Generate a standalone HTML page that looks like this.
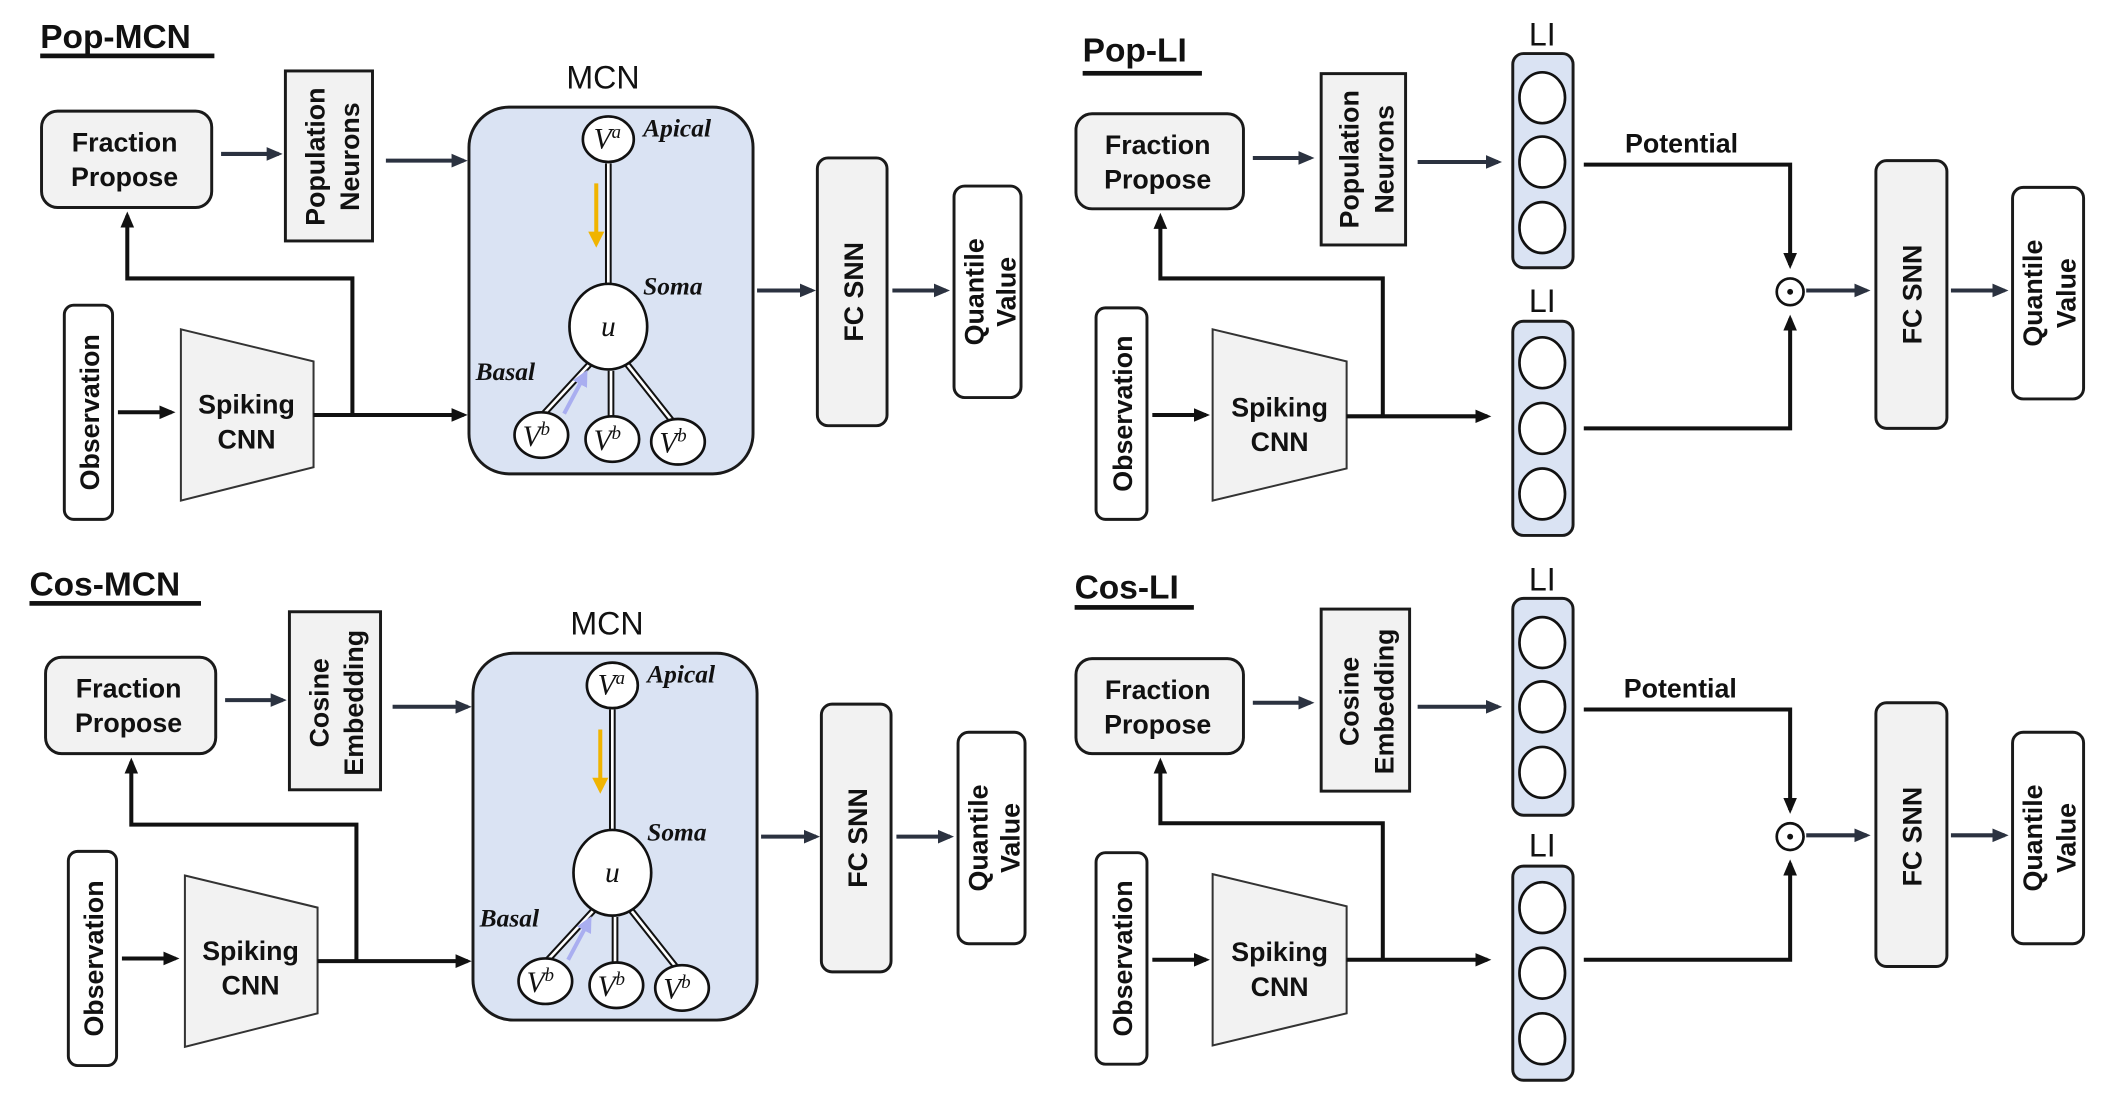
<!DOCTYPE html>
<html><head><meta charset="utf-8"><style>
html,body{margin:0;padding:0;background:#fff;}
svg{display:block;}
text{font-family:"Liberation Sans",sans-serif;}
.b{font-weight:bold;font-size:20px;fill:#111;}
.t{font-weight:bold;font-size:25px;fill:#111;}
.it{font-family:"Liberation Serif",serif;font-style:italic;font-weight:bold;font-size:19px;fill:#111;}
.m{font-family:"Liberation Serif",serif;font-style:italic;font-size:22px;fill:#111;}
.box{fill:#f2f2f2;stroke:#1a1a1a;stroke-width:2.2;}
.wbox{fill:#fff;stroke:#1a1a1a;stroke-width:2.2;}
.blue{fill:#dae3f3;stroke:#1a1a1a;stroke-width:2.2;}
.ar{stroke:#2b3240;stroke-width:3;fill:none;marker-end:url(#ah);}
.k{stroke:#111;stroke-width:3;fill:none;}
.ka{stroke:#111;stroke-width:3;fill:none;marker-end:url(#ak);}
.dl{stroke:#111;stroke-width:5;fill:none;}
.dw{stroke:#fff;stroke-width:2;fill:none;}
.c{fill:#fff;stroke:#111;stroke-width:2;}
</style></head><body>
<svg width="2101" height="1095" viewBox="0 0 1568 818" preserveAspectRatio="none" xmlns="http://www.w3.org/2000/svg">
<defs>
<marker id="ah" markerWidth="4" markerHeight="4" refX="3" refY="2" orient="auto"><path d="M0,0.3 L4,2 L0,3.7z" fill="#2b3240"/></marker>
<marker id="ak" markerWidth="4" markerHeight="4" refX="3" refY="2" orient="auto"><path d="M0,0.3 L4,2 L0,3.7z" fill="#111"/></marker>
<marker id="ao" markerWidth="4" markerHeight="4" refX="3" refY="2" orient="auto"><path d="M0,0 L4,2 L0,4z" fill="#f0b400"/></marker>
<marker id="ap" markerWidth="4" markerHeight="4" refX="3" refY="2" orient="auto"><path d="M0,0 L4,2 L0,4z" fill="#a9aef0"/></marker>
</defs>

<!-- ===== Pop-MCN ===== -->
<g>
<text class="t" x="30" y="36">Pop-MCN</text>
<rect x="30" y="40" width="130" height="3.5" fill="#111"/>
<rect class="box" x="31" y="83" width="127" height="72" rx="12"/>
<text class="b" x="93" y="113" text-anchor="middle">Fraction</text>
<text class="b" x="93" y="139" text-anchor="middle">Propose</text>
<path class="ar" d="M165,115 H208"/>
<rect class="box" x="213" y="53" width="65" height="127"/>
<text class="b" transform="translate(242,117) rotate(-90)" text-anchor="middle">Population</text>
<text class="b" transform="translate(268,117) rotate(-90)" text-anchor="middle">Neurons</text>
<path class="ar" d="M288,120 H346"/>
<text x="450" y="66" text-anchor="middle" font-size="24" fill="#111">MCN</text>
<rect class="blue" x="350" y="80" width="212" height="274" rx="30"/>
<path class="dl" d="M454,122 V212 M440,272 L405,310 M456,277 V312 M468,272 L502,315"/>
<path class="dw" d="M454,122 V212 M440,272 L405,310 M456,277 V312 M468,272 L502,315"/>
<path d="M445,137 V182" stroke="#f0b400" stroke-width="3" marker-end="url(#ao)"/>
<path d="M421,309 L437,279" stroke="#a9aef0" stroke-width="3" marker-end="url(#ap)"/>
<ellipse class="c" cx="454" cy="104" rx="19" ry="17"/>
<text class="m" x="443" y="111">V<tspan font-size="14" dy="-8">a</tspan></text>
<text class="it" x="480" y="102">Apical</text>
<ellipse class="c" cx="454" cy="244" rx="29" ry="32"/>
<text class="m" x="454" y="251" text-anchor="middle" font-size="28">u</text>
<text class="it" x="480" y="220">Soma</text>
<text class="it" x="355" y="284">Basal</text>
<ellipse class="c" cx="404" cy="325" rx="20" ry="17"/>
<ellipse class="c" cx="457" cy="328" rx="20" ry="17"/>
<ellipse class="c" cx="506" cy="330" rx="20" ry="17"/>
<text class="m" x="390" y="333">V<tspan font-size="14" dy="-8">b</tspan></text>
<text class="m" x="443" y="336">V<tspan font-size="14" dy="-8">b</tspan></text>
<text class="m" x="492" y="338">V<tspan font-size="14" dy="-8">b</tspan></text>
<rect class="wbox" x="48" y="228" width="36" height="160" rx="7"/>
<text class="b" transform="translate(74,308) rotate(-90)" text-anchor="middle">Observation</text>
<path class="ka" d="M88,308 H128"/>
<path d="M135,246 L234,270 L234,349 L135,374z" fill="#f2f2f2" stroke="#333" stroke-width="1.5"/>
<text class="b" x="184" y="309" text-anchor="middle">Spiking</text>
<text class="b" x="184" y="335" text-anchor="middle">CNN</text>
<path class="ka" d="M234,310 H346"/>
<path class="ka" d="M263,310 V208 H95 V161"/>
<path class="ar" d="M565,217 H606"/>
<rect class="box" x="610" y="118" width="52" height="200" rx="8"/>
<text class="b" transform="translate(644,218) rotate(-90)" text-anchor="middle">FC  SNN</text>
<path class="ar" d="M666,217 H706"/>
<rect class="wbox" x="712" y="139" width="50" height="158" rx="8"/>
<text class="b" transform="translate(734,218) rotate(-90)" text-anchor="middle">Quantile</text>
<text class="b" transform="translate(758,218) rotate(-90)" text-anchor="middle">Value</text>
</g>

<!-- ===== Cos-MCN ===== -->
<g transform="translate(3,408)">
<text class="t" x="19" y="37">Cos-MCN</text>
<rect x="19" y="41" width="128" height="3.5" fill="#111"/>
<rect class="box" x="31" y="83" width="127" height="72" rx="12"/>
<text class="b" x="93" y="113" text-anchor="middle">Fraction</text>
<text class="b" x="93" y="139" text-anchor="middle">Propose</text>
<path class="ar" d="M165,115 H208"/>
<rect class="box" x="213" y="49" width="68" height="133"/>
<text class="b" transform="translate(242,117) rotate(-90)" text-anchor="middle">Cosine</text>
<text class="b" transform="translate(268,117) rotate(-90)" text-anchor="middle">Embedding</text>
<path class="ar" d="M290,120 H346"/>
<text x="450" y="66" text-anchor="middle" font-size="24" fill="#111">MCN</text>
<rect class="blue" x="350" y="80" width="212" height="274" rx="30"/>
<path class="dl" d="M454,122 V212 M440,272 L405,310 M456,277 V312 M468,272 L502,315"/>
<path class="dw" d="M454,122 V212 M440,272 L405,310 M456,277 V312 M468,272 L502,315"/>
<path d="M445,137 V182" stroke="#f0b400" stroke-width="3" marker-end="url(#ao)"/>
<path d="M421,309 L437,279" stroke="#a9aef0" stroke-width="3" marker-end="url(#ap)"/>
<ellipse class="c" cx="454" cy="104" rx="19" ry="17"/>
<text class="m" x="443" y="111">V<tspan font-size="14" dy="-8">a</tspan></text>
<text class="it" x="480" y="102">Apical</text>
<ellipse class="c" cx="454" cy="244" rx="29" ry="32"/>
<text class="m" x="454" y="251" text-anchor="middle" font-size="28">u</text>
<text class="it" x="480" y="220">Soma</text>
<text class="it" x="355" y="284">Basal</text>
<ellipse class="c" cx="404" cy="325" rx="20" ry="17"/>
<ellipse class="c" cx="457" cy="328" rx="20" ry="17"/>
<ellipse class="c" cx="506" cy="330" rx="20" ry="17"/>
<text class="m" x="390" y="333">V<tspan font-size="14" dy="-8">b</tspan></text>
<text class="m" x="443" y="336">V<tspan font-size="14" dy="-8">b</tspan></text>
<text class="m" x="492" y="338">V<tspan font-size="14" dy="-8">b</tspan></text>
<rect class="wbox" x="48" y="228" width="36" height="160" rx="7"/>
<text class="b" transform="translate(74,308) rotate(-90)" text-anchor="middle">Observation</text>
<path class="ka" d="M88,308 H128"/>
<path d="M135,246 L234,270 L234,349 L135,374z" fill="#f2f2f2" stroke="#333" stroke-width="1.5"/>
<text class="b" x="184" y="309" text-anchor="middle">Spiking</text>
<text class="b" x="184" y="335" text-anchor="middle">CNN</text>
<path class="ka" d="M234,310 H346"/>
<path class="ka" d="M263,310 V208 H95 V161"/>
<path class="ar" d="M565,217 H606"/>
<rect class="box" x="610" y="118" width="52" height="200" rx="8"/>
<text class="b" transform="translate(644,218) rotate(-90)" text-anchor="middle">FC  SNN</text>
<path class="ar" d="M666,217 H706"/>
<rect class="wbox" x="712" y="139" width="50" height="158" rx="8"/>
<text class="b" transform="translate(734,218) rotate(-90)" text-anchor="middle">Quantile</text>
<text class="b" transform="translate(758,218) rotate(-90)" text-anchor="middle">Value</text>
</g>

<!-- ===== Pop-LI ===== -->
<g>
<text class="t" x="808" y="46">Pop-LI</text>
<rect x="808" y="53" width="89" height="3.5" fill="#111"/>
<rect class="box" x="803" y="85" width="125" height="71" rx="12"/>
<text class="b" x="864" y="115" text-anchor="middle">Fraction</text>
<text class="b" x="864" y="141" text-anchor="middle">Propose</text>
<path class="ar" d="M935,118 H978"/>
<rect class="box" x="986" y="55" width="63" height="128"/>
<text class="b" transform="translate(1014,119) rotate(-90)" text-anchor="middle">Population</text>
<text class="b" transform="translate(1040,119) rotate(-90)" text-anchor="middle">Neurons</text>
<path class="ar" d="M1058,121 H1118"/>
<text x="1151" y="34" text-anchor="middle" font-size="24" fill="#111">LI</text>
<rect class="blue" x="1129" y="40" width="45" height="160" rx="8"/>
<ellipse class="c" cx="1151" cy="73" rx="17" ry="19"/>
<ellipse class="c" cx="1151" cy="121" rx="17" ry="19"/>
<ellipse class="c" cx="1151" cy="170" rx="17" ry="19"/>
<text class="b" x="1255" y="114" text-anchor="middle">Potential</text>
<path class="ka" d="M1182,123 H1336 V198"/>
<text x="1151" y="233" text-anchor="middle" font-size="24" fill="#111">LI</text>
<rect class="blue" x="1129" y="240" width="45" height="160" rx="8"/>
<ellipse class="c" cx="1151" cy="271" rx="17" ry="19"/>
<ellipse class="c" cx="1151" cy="320" rx="17" ry="19"/>
<ellipse class="c" cx="1151" cy="369" rx="17" ry="19"/>
<circle cx="1336" cy="218" r="10" fill="#fff" stroke="#111" stroke-width="2"/>
<circle cx="1336" cy="218" r="2.2" fill="#111"/>
<path class="ka" d="M1182,320 H1336 V238"/>
<rect class="wbox" x="818" y="230" width="38" height="158" rx="7"/>
<text class="b" transform="translate(845,309) rotate(-90)" text-anchor="middle">Observation</text>
<path class="ka" d="M860,310 H900"/>
<path d="M905,246 L1005,270 L1005,350 L905,374z" fill="#f2f2f2" stroke="#333" stroke-width="1.5"/>
<text class="b" x="955" y="311" text-anchor="middle">Spiking</text>
<text class="b" x="955" y="337" text-anchor="middle">CNN</text>
<path class="ka" d="M1005,311 H1110"/>
<path class="ka" d="M1032,311 V208 H866 V162"/>
<path class="ar" d="M1348,217 H1393"/>
<rect class="box" x="1400" y="120" width="53" height="200" rx="8"/>
<text class="b" transform="translate(1434,220) rotate(-90)" text-anchor="middle">FC  SNN</text>
<path class="ar" d="M1456,217 H1496"/>
<rect class="wbox" x="1502" y="140" width="53" height="158" rx="8"/>
<text class="b" transform="translate(1524,219) rotate(-90)" text-anchor="middle">Quantile</text>
<text class="b" transform="translate(1549,219) rotate(-90)" text-anchor="middle">Value</text>
</g>

<!-- ===== Cos-LI ===== -->
<g transform="translate(0,407)">
<text class="t" x="802" y="40">Cos-LI</text>
<rect x="802" y="45" width="89" height="3.5" fill="#111"/>
<rect class="box" x="803" y="85" width="125" height="71" rx="12"/>
<text class="b" x="864" y="115" text-anchor="middle">Fraction</text>
<text class="b" x="864" y="141" text-anchor="middle">Propose</text>
<path class="ar" d="M935,118 H978"/>
<rect class="box" x="986" y="48" width="66" height="136"/>
<text class="b" transform="translate(1014,117) rotate(-90)" text-anchor="middle">Cosine</text>
<text class="b" transform="translate(1040,117) rotate(-90)" text-anchor="middle">Embedding</text>
<path class="ar" d="M1058,121 H1118"/>
<text x="1151" y="34" text-anchor="middle" font-size="24" fill="#111">LI</text>
<rect class="blue" x="1129" y="40" width="45" height="162" rx="8"/>
<ellipse class="c" cx="1151" cy="73" rx="17" ry="19"/>
<ellipse class="c" cx="1151" cy="121" rx="17" ry="19"/>
<ellipse class="c" cx="1151" cy="170" rx="17" ry="19"/>
<text class="b" x="1254" y="114" text-anchor="middle">Potential</text>
<path class="ka" d="M1182,123 H1336 V198"/>
<text x="1151" y="233" text-anchor="middle" font-size="24" fill="#111">LI</text>
<rect class="blue" x="1129" y="240" width="45" height="160" rx="8"/>
<ellipse class="c" cx="1151" cy="271" rx="17" ry="19"/>
<ellipse class="c" cx="1151" cy="320" rx="17" ry="19"/>
<ellipse class="c" cx="1151" cy="369" rx="17" ry="19"/>
<circle cx="1336" cy="218" r="10" fill="#fff" stroke="#111" stroke-width="2"/>
<circle cx="1336" cy="218" r="2.2" fill="#111"/>
<path class="ka" d="M1182,310 H1336 V238"/>
<rect class="wbox" x="818" y="230" width="38" height="158" rx="7"/>
<text class="b" transform="translate(845,309) rotate(-90)" text-anchor="middle">Observation</text>
<path class="ka" d="M860,310 H900"/>
<path d="M905,246 L1005,270 L1005,350 L905,374z" fill="#f2f2f2" stroke="#333" stroke-width="1.5"/>
<text class="b" x="955" y="311" text-anchor="middle">Spiking</text>
<text class="b" x="955" y="337" text-anchor="middle">CNN</text>
<path class="ka" d="M1005,310 H1110"/>
<path class="ka" d="M1032,310 V208 H866 V162"/>
<path class="ar" d="M1348,217 H1393"/>
<rect class="box" x="1400" y="118" width="53" height="197" rx="8"/>
<text class="b" transform="translate(1434,218) rotate(-90)" text-anchor="middle">FC  SNN</text>
<path class="ar" d="M1456,217 H1496"/>
<rect class="wbox" x="1502" y="140" width="53" height="158" rx="8"/>
<text class="b" transform="translate(1524,219) rotate(-90)" text-anchor="middle">Quantile</text>
<text class="b" transform="translate(1549,219) rotate(-90)" text-anchor="middle">Value</text>
</g>
</svg>
</body></html>
